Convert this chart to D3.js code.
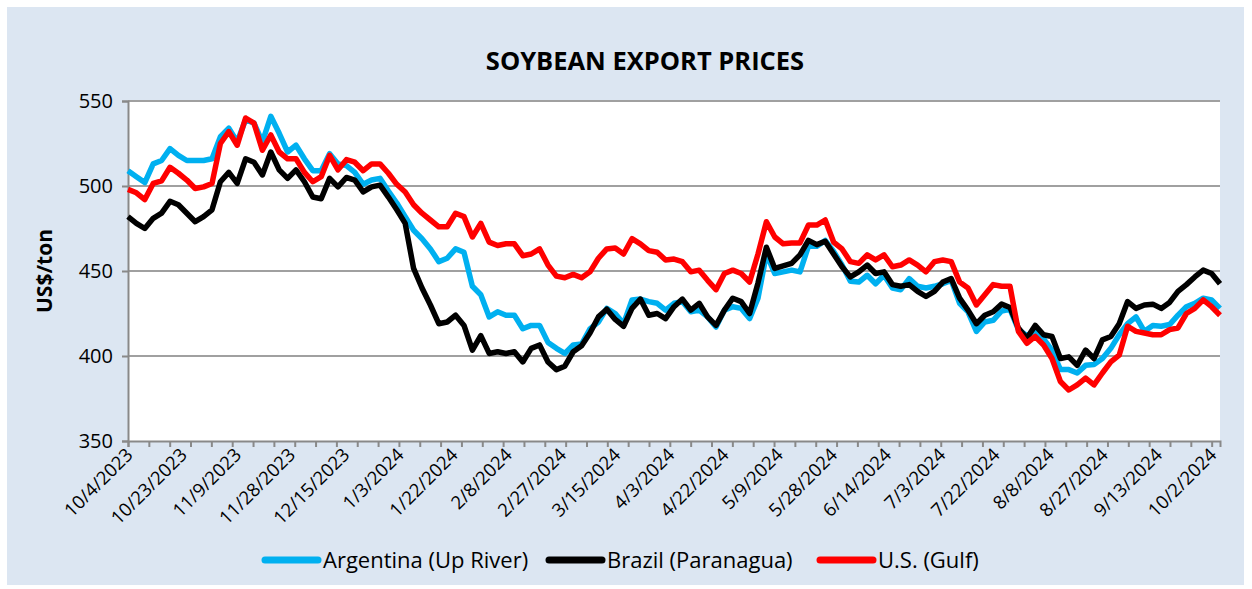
<!DOCTYPE html>
<html>
<head>
<meta charset="utf-8">
<script src="https://cdn.jsdelivr.net/npm/d3@7"></script>
<style>
    body { margin: 0; background: #fff; }
    text { font-family: 'Open Sans', sans-serif; fill: #000; }
</style>
</head>
<body>
<div id="chart"></div>
<script>
///////////////////////////
// DATA
///////////////////////////

// category axis: business days 10/4/2023 .. 10/4/2024, a label every 13 days
const tickLabels = [
    '10/4/2023', '10/23/2023', '11/9/2023', '11/28/2023', '12/15/2023',
    '1/3/2024', '1/22/2024', '2/8/2024', '2/27/2024', '3/15/2024',
    '4/3/2024', '4/22/2024', '5/9/2024', '5/28/2024', '6/14/2024',
    '7/3/2024', '7/22/2024', '8/8/2024', '8/27/2024', '9/13/2024',
    '10/2/2024'
];

const yTicks = [350, 400, 450, 500, 550];

// prices in US$/ton, read every second business day
const argentina = [
    509, 505.5, 502, 513, 515, 522, 518, 515, 515, 515, 516, 529, 534, 526, 539, 537, 526, 541, 531, 520, 524, 516, 509, 509, 519, 513, 512,
    508, 501, 503.5, 504.5, 497, 490, 482, 474, 469, 463, 455.5, 457.5, 463, 461, 441, 436, 423, 426, 424, 424, 416, 418, 418, 408, 404.5, 401.5,
    406.5, 407, 416, 420, 428, 425, 419, 433, 433.5, 432, 431, 427, 431, 432, 426, 427, 423, 417, 427, 429, 428, 422, 434, 460, 448.5, 449.5,
    450.5, 449.5, 464.5, 464.5, 468, 461.5, 453.5, 444, 443.5, 447.5, 442.5, 447.5, 440, 439, 445.5, 441, 440, 441, 442.5, 444.5, 431, 426, 414.5, 420, 421, 426.5,
    427.5, 415.5, 412, 414.5, 410, 403.5, 392, 392, 390, 394.5, 395, 398.5, 404.5, 412.5, 419, 423, 414.5, 418, 417.5, 418.5, 424, 429, 431, 434, 433, 428
];

const brazil = [
    482, 478, 475, 481, 484, 491, 489, 484, 479, 482, 486, 502.5, 508, 501.5, 516, 514, 506.5, 520, 509.5, 504.5, 509.5, 502.5, 493.5, 492.5, 504.5, 499.5, 505,
    503.5, 496.5, 499.5, 500.5, 493.5, 486, 478, 451.5, 440, 430, 419, 420, 424, 418, 403.5, 412, 401.5, 402.5, 401.5, 402.5, 396.5, 404.5, 406.5, 396.5, 392, 394,
    402.5, 406, 413.5, 423, 427.5, 421.5, 417.5, 428, 433.5, 424, 425, 422, 429, 433.5, 427, 431, 423, 418, 427, 434, 432, 425, 443, 464, 451.5, 453,
    454.5, 459.5, 468, 465.5, 467.5, 460, 452.5, 446.5, 449.5, 453.5, 448.5, 449.5, 442, 441, 442, 438, 435, 438, 443.5, 445.5, 434, 427, 419, 424, 426, 430.5,
    428.5, 416.5, 410.5, 418, 412.5, 411.5, 398.5, 399.5, 394.5, 403.5, 398.5, 409.5, 411.5, 419, 432, 428, 430, 430.5, 428, 431.5, 438, 442, 446.5, 450.5, 448.5, 442.5
];

const usGulf = [
    498, 496, 492, 501.5, 503, 511, 507.5, 503.5, 498.5, 499.5, 501.5, 525, 532, 524, 540, 537, 521, 530, 520, 516, 516, 508, 502.5, 505.5, 518, 509.5, 515.5,
    514, 509, 513, 513, 507.5, 501, 496.5, 489, 484, 480, 476, 476, 484, 482, 470, 478, 467, 465, 466, 466, 459, 460, 463, 453.5, 447, 446,
    448, 446, 449.5, 457.5, 463, 463.5, 460, 469, 466, 462, 461, 456.5, 457, 455.5, 449.5, 450.5, 444.5, 439, 448.5, 450.5, 448.5, 443.5, 460, 479, 470, 466,
    466.5, 466.5, 477, 477, 480, 467, 463, 455.5, 454.5, 459.5, 456.5, 459.5, 452.5, 453.5, 456.5, 453.5, 449.5, 455.5, 456.5, 455.5, 443.5, 440, 430, 436, 442, 441,
    441, 414.5, 407.5, 411.5, 406.5, 398.5, 385, 380, 383, 387, 383, 390, 396.5, 400.5, 417.5, 414.5, 413.5, 412.5, 412.5, 415.5, 416.5, 425, 428, 433, 429, 424
];

const seriesNames = ['Argentina (Up River)', 'Brazil (Paranagua)', 'U.S. (Gulf)'];
const seriesColors = ['#00b0f0', '#000000', '#ff0000'];
const nDays = 263;

///////////////////////////
// CHART
///////////////////////////

const width = 1252;
const height = 589;
const plot = { left: 128, right: 1220, top: 101, bottom: 441 };

let svg = d3.select('#chart')
    .append('svg')
    .attr('width', width)
    .attr('height', height);

svg.append('rect')
    .attr('x', 7).attr('y', 7)
    .attr('width', 1237).attr('height', 578)
    .style('fill', '#dce6f2');

svg.append('rect')
    .attr('x', plot.left).attr('y', plot.top)
    .attr('width', plot.right - plot.left).attr('height', plot.bottom - plot.top)
    .style('fill', '#fff');

const xDay = d3.scaleLinear().domain([0, nDays - 1]).range([plot.left, plot.right]);
const xSample = d3.scaleLinear().domain([0, argentina.length - 1]).range([plot.left, plot.right]);
const y = d3.scaleLinear().domain([350, 550]).range([plot.bottom, plot.top]);

// gridlines
svg.append('g')
    .selectAll('line')
    .data(yTicks.slice(1))
    .enter().append('line')
    .attr('x1', plot.left).attr('x2', plot.right)
    .attr('y1', (d) => { return y(d) }).attr('y2', (d) => { return y(d) })
    .style('stroke', '#a0a0a0')
    .style('stroke-width', 2);

// y axis
let yAxis = svg.append('g')
    .attr('transform', `translate(${plot.left},0)`)
    .call(d3.axisLeft(y).tickValues(yTicks).tickSize(6).tickPadding(9));
yAxis.select('.domain').style('stroke', '#898989').style('stroke-width', 2);
yAxis.selectAll('.tick line').style('stroke', '#898989').style('stroke-width', 2);
yAxis.selectAll('.tick text').style('font-size', '20px').style('font-family', "'Open Sans', sans-serif");

// x axis
let xAxis = svg.append('g')
    .attr('transform', `translate(0,${plot.bottom})`)
    .call(d3.axisBottom(xDay).tickValues(d3.range(0, nDays, 5)).tickSize(6).tickFormat(''));
xAxis.select('.domain').style('stroke', '#898989').style('stroke-width', 2);
xAxis.selectAll('.tick line').style('stroke', '#898989').style('stroke-width', 2);

svg.append('g')
    .selectAll('text')
    .data(tickLabels)
    .enter().append('text')
    .attr('transform', (d, i) => { return `translate(${xDay(i * 13) + 6},${plot.bottom + 15}) rotate(-45)` })
    .attr('text-anchor', 'end')
    .style('font-size', '18.5px')
    .text((d) => { return d });

// lines
const line = d3.line()
    .x((d, i) => { return xSample(i) })
    .y((d) => { return y(d) });

[argentina, brazil, usGulf].forEach((values, k) => {
    svg.append('path')
        .datum(values)
        .attr('d', line)
        .style('fill', 'none')
        .style('stroke', seriesColors[k])
        .style('stroke-width', 5.5)
        .style('stroke-linejoin', 'round');
});

// title
svg.append('text')
    .attr('x', 645).attr('y', 70)
    .attr('text-anchor', 'middle')
    .style('font-size', '25.5px')
    .style('font-weight', 'bold')
    .text('SOYBEAN EXPORT PRICES');

svg.append('text')
    .attr('transform', `translate(52,${(plot.top + plot.bottom) / 2}) rotate(-90)`)
    .attr('text-anchor', 'middle')
    .style('font-size', '21px')
    .style('font-weight', 'bold')
    .text('US$/ton');

// legend
const legendX = [265, 549, 820];
let legend = svg.append('g')
    .selectAll('g')
    .data(seriesNames)
    .enter().append('g')
    .attr('transform', (d, i) => { return `translate(${legendX[i]},560)` });

legend.append('line')
    .attr('x1', 0).attr('x2', 53)
    .style('stroke', (d, i) => { return seriesColors[i] })
    .style('stroke-width', 7)
    .style('stroke-linecap', 'round');

legend.append('text')
    .attr('x', 58).attr('y', 8)
    .style('font-size', '22px')
    .text((d) => { return d });
</script>
</body>
</html>
